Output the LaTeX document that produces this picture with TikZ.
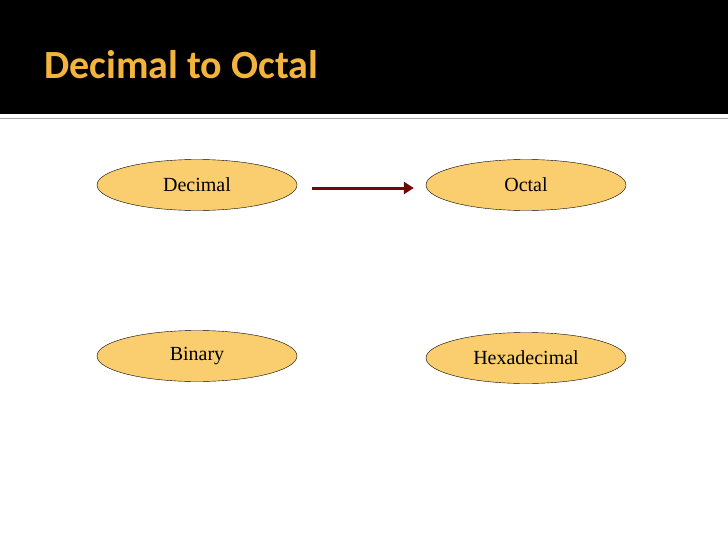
\documentclass[tikz,border=0pt]{standalone}
\usepackage{fontspec}
\setmainfont{Liberation Serif}
\newfontfamily\titlefont{Carlito}
\usetikzlibrary{shapes.geometric,arrows.meta}
\definecolor{ovalfill}{RGB}{250,205,110}
\definecolor{titlegold}{RGB}{242,180,60}
\definecolor{arrowred}{RGB}{110,10,10}
\begin{document}
\begin{tikzpicture}[x=1pt,y=-1pt,
  numbox/.style={ellipse, draw=black, fill=ovalfill, minimum width=200pt, minimum height=51pt, inner sep=0pt, font=\fontsize{20}{24}\selectfont}]
  \useasboundingbox (0,0) rectangle (728,546);
  \fill[black] (0,0) rectangle (728,114);
  \draw[gray!70, line width=1.5pt] (0,118.5) -- (728,118.5);
  \node[anchor=base west, text=titlegold, font=\titlefont\bfseries\fontsize{40}{48}\selectfont, inner sep=0pt] (title) at (44,78) {Decimal to Octal};
  \node[numbox] (dec) at (197,185) {Decimal};
  \node[numbox] (oct) at (526,185) {Octal};
  \node[numbox] (bin) at (197,356) {Binary};
  \node[numbox] (hex) at (526,358) {Hexadecimal};
  \draw[arrowred, line width=3pt, -{Triangle[length=10pt,width=12pt]}] ([xshift=15pt]dec.east |- 0,188) coordinate (a) -- ([xshift=-12pt]oct.west |- 0,188);
\end{tikzpicture}
\end{document}
